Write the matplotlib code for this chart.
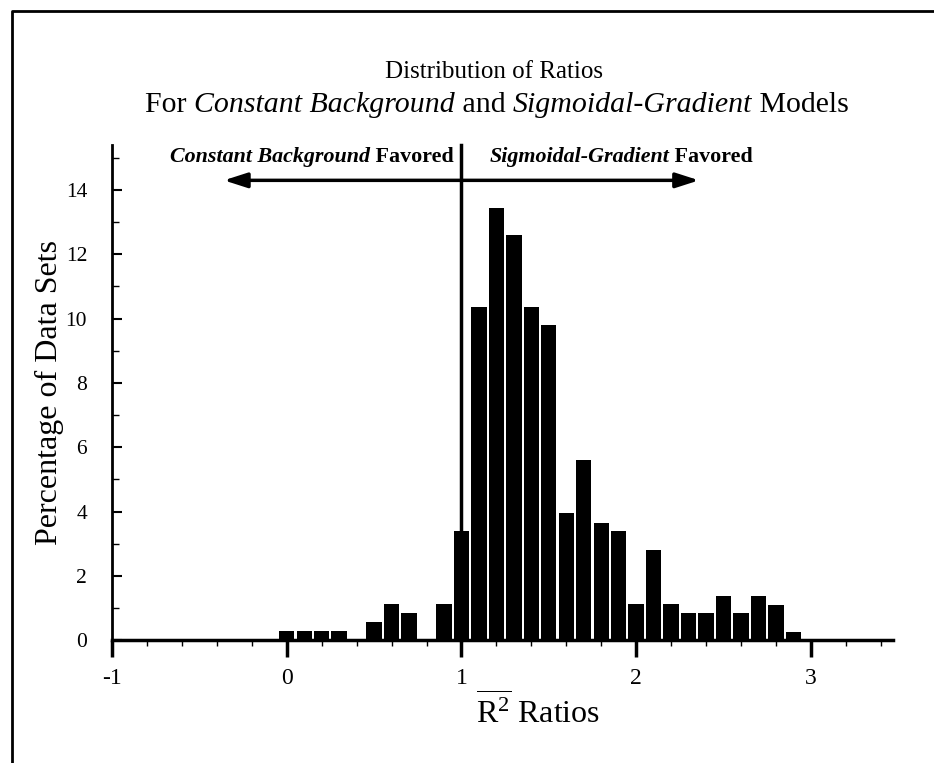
import matplotlib
matplotlib.use("Agg")
import matplotlib.pyplot as plt
from matplotlib.offsetbox import TextArea, HPacker, AnchoredOffsetbox
from matplotlib.lines import Line2D
import numpy as np

plt.rcParams['font.family'] = ['Liberation Serif', 'DejaVu Serif']
plt.rcParams['mathtext.fontset'] = 'custom'
plt.rcParams['mathtext.rm'] = 'Liberation Serif'
plt.rcParams['mathtext.it'] = 'Liberation Serif:italic'
plt.rcParams['axes.unicode_minus'] = False

# histogram of R^2 ratios, bins of 0.1
bin_centers = [0.0, 0.1, 0.2, 0.3, 0.5, 0.6, 0.7, 0.9, 1.0, 1.1, 1.2, 1.3, 1.4,
               1.5, 1.6, 1.7, 1.8, 1.9, 2.0, 2.1, 2.2, 2.3, 2.4, 2.5, 2.6, 2.7,
               2.8, 2.9]
percent = [0.27, 0.27, 0.27, 0.27, 0.55, 1.12, 0.83, 1.12, 3.4, 10.35, 13.45,
           12.6, 10.35, 9.8, 3.95, 5.6, 3.65, 3.38, 1.12, 2.8, 1.12, 0.83, 0.83,
           1.37, 0.83, 1.37, 1.1, 0.25]

x_ticks = [-1, 0, 1, 2, 3]
y_ticks = [0, 2, 4, 6, 8, 10, 12, 14]
split_at = 1.0

fig = plt.figure(figsize=(9.34, 7.63), dpi=100)
ax = fig.add_axes([0.12, 0.161, 0.836, 0.649])

ax.bar(bin_centers, percent, width=0.088, color='black', edgecolor='none')

ax.set_xlim(-1, 3.47)
ax.set_ylim(0, 15.4)
ax.spines['top'].set_visible(False)
ax.spines['right'].set_visible(False)
ax.spines['left'].set_linewidth(2)
ax.spines['bottom'].set_linewidth(2.5)

ax.set_xticks(x_ticks)
ax.set_xticks(np.arange(-1, 3.5, 0.2), minor=True)
ax.set_yticks(y_ticks)
ax.set_yticks(range(0, 16), minor=True)
ax.tick_params(axis='x', which='major', direction='out', length=12, width=2.5,
               labelsize=17, pad=8)
ax.tick_params(axis='x', which='minor', direction='out', length=4, width=1)
ax.tick_params(axis='y', which='major', direction='in', length=7, width=1.5,
               labelsize=15.5, pad=18)
ax.tick_params(axis='y', which='minor', direction='in', length=5, width=1)

ax.set_ylabel('Percentage of Data Sets', fontsize=23)
ax.yaxis.set_label_coords(-0.062, 0.5)
ax.text(1.44, -2.2, r'$\overline{\mathrm{R}^2}$ Ratios', fontsize=23,
        ha='center', va='center')

# divider at ratio 1 and the two direction arrows
ax.plot([split_at, split_at], [0, 15.4], color='black', lw=2.5, clip_on=False)
arrow = dict(arrowstyle='-|>,head_length=1.4,head_width=0.45', color='black',
             lw=2.5, shrinkA=0, shrinkB=0)
ax.annotate('', xy=(-0.36, 14.3), xytext=(split_at, 14.3), arrowprops=arrow)
ax.annotate('', xy=(2.36, 14.3), xytext=(split_at, 14.3), arrowprops=arrow)


def mixed_line(parts, size, weight='normal'):
    boxes = [TextArea(t, textprops=dict(fontsize=size, style=s, weight=weight,
                                        family='Liberation Serif'))
             for t, s in parts]
    return HPacker(children=boxes, align='baseline', pad=0, sep=0)


def place(box, x, y, loc):
    anch = AnchoredOffsetbox(loc=loc, child=box, pad=0, borderpad=0, frameon=False,
                             bbox_to_anchor=(x, y), bbox_transform=fig.transFigure)
    fig.add_artist(anch)


place(mixed_line([('Constant Background', 'italic'), (' Favored', 'normal')],
                 15.8, 'bold'), 0.486, 0.794, 'center right')
place(mixed_line([('Sigmoidal-Gradient', 'italic'), (' Favored', 'normal')],
                 15.8, 'bold'), 0.524, 0.794, 'center left')

fig.text(0.529, 0.905, 'Distribution of Ratios', fontsize=18, ha='center',
         va='center')
place(mixed_line([('For ', 'normal'), ('Constant Background', 'italic'),
                  (' and ', 'normal'), ('Sigmoidal-Gradient', 'italic'),
                  (' Models', 'normal')], 21.5), 0.532, 0.862, 'center')

# page frame
fig.add_artist(Line2D([0.013, 0.013, 1.0], [0.0, 0.985, 0.985], color='black', lw=2))

fig.savefig('out.png', dpi=100)
